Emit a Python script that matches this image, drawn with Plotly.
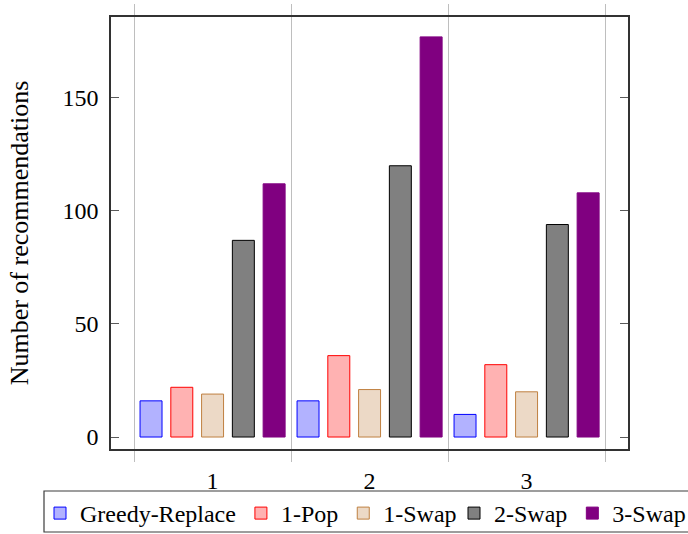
import plotly.graph_objects as go

groups = [1, 2, 3]
series_names = ["Greedy-Replace", "1-Pop", "1-Swap", "2-Swap", "3-Swap"]
greedy_replace = [16, 16, 10]
one_pop = [22, 36, 32]
one_swap = [19, 21, 20]
two_swap = [87, 120, 94]
three_swap = [112, 177, 108]
values = [greedy_replace, one_pop, one_swap, two_swap, three_swap]

fills = ["rgb(178,178,255)", "rgb(255,178,178)", "rgb(236,217,198)", "rgb(128,128,128)", "rgb(128,0,128)"]
borders = ["rgb(0,0,255)", "rgb(255,0,0)", "rgb(191,128,64)", "rgb(0,0,0)", "rgb(128,0,128)"]
legend_ids = ["legend", "legend", "legend", "legend2", "legend2"]

boundaries = [0.5, 1.5, 2.5, 3.5]
yticks = [0, 50, 100, 150]

FONT = "Liberation Serif"

# pixel geometry of the plot area (for placing the legend box)
L, R, T, B, W, H = 111, 60, 17, 85, 688, 534
PW, PH = W - L - R, H - T - B


def px_x(p):
    return (p - L) / PW


def px_y(p):
    return (H - B - p) / PH


fig = go.Figure()
for name, vals, fc, lc, lg in zip(series_names, values, fills, borders, legend_ids):
    fig.add_trace(go.Bar(x=groups, y=vals, name=name, legend=lg,
                         marker=dict(color=fc, line=dict(color=lc, width=1))))

grid_col = "rgb(190,190,190)"
leg_common = dict(orientation="h", xanchor="left", yanchor="top",
                  bgcolor="rgba(0,0,0,0)", borderwidth=0,
                  font=dict(family=FONT, size=24, color="black"),
                  itemwidth=30, tracegroupgap=0)
fig.update_layout(
    width=W, height=H,
    margin=dict(l=L, r=R, t=T, b=B, autoexpand=False),
    paper_bgcolor="white", plot_bgcolor="white",
    barmode="group", bargap=0.02, bargroupgap=0.286,
    font=dict(family=FONT, size=24, color="black"),
    showlegend=True,
    legend=dict(x=px_x(40), y=px_y(491), **leg_common),
    legend2=dict(x=px_x(454), y=px_y(491), **leg_common),
    shapes=[dict(type="rect", xref="paper", yref="paper",
                 x0=px_x(44), x1=px_x(700), y0=px_y(532), y1=px_y(491),
                 line=dict(color="rgb(60,60,60)", width=1.2), fillcolor="rgba(0,0,0,0)",
                 layer="below")],
    xaxis=dict(range=[0.353, 3.646], tickvals=groups, ticktext=[str(g) for g in groups],
               ticks="", showgrid=False, zeroline=False,
               showline=True, linecolor="rgb(50,50,50)", linewidth=1.5, mirror="ticks",
               ticklabelstandoff=9,
               minor=dict(tickvals=boundaries, showgrid=True, gridcolor=grid_col, gridwidth=1,
                          ticks="outside", ticklen=11, tickcolor=grid_col, tickwidth=1)),
    yaxis=dict(range=[-5.3, 185.8], tickvals=yticks, ticks="inside", ticklen=8,
               tickcolor="rgb(90,90,90)", showgrid=False, zeroline=False,
               showline=True, linecolor="rgb(50,50,50)", linewidth=1.5, mirror="ticks",
               ticklabelstandoff=6,
               title=dict(text="Number of recommendations", standoff=26,
                          font=dict(family=FONT, size=26, color="black"))),
)

fig.write_html("out.html")
